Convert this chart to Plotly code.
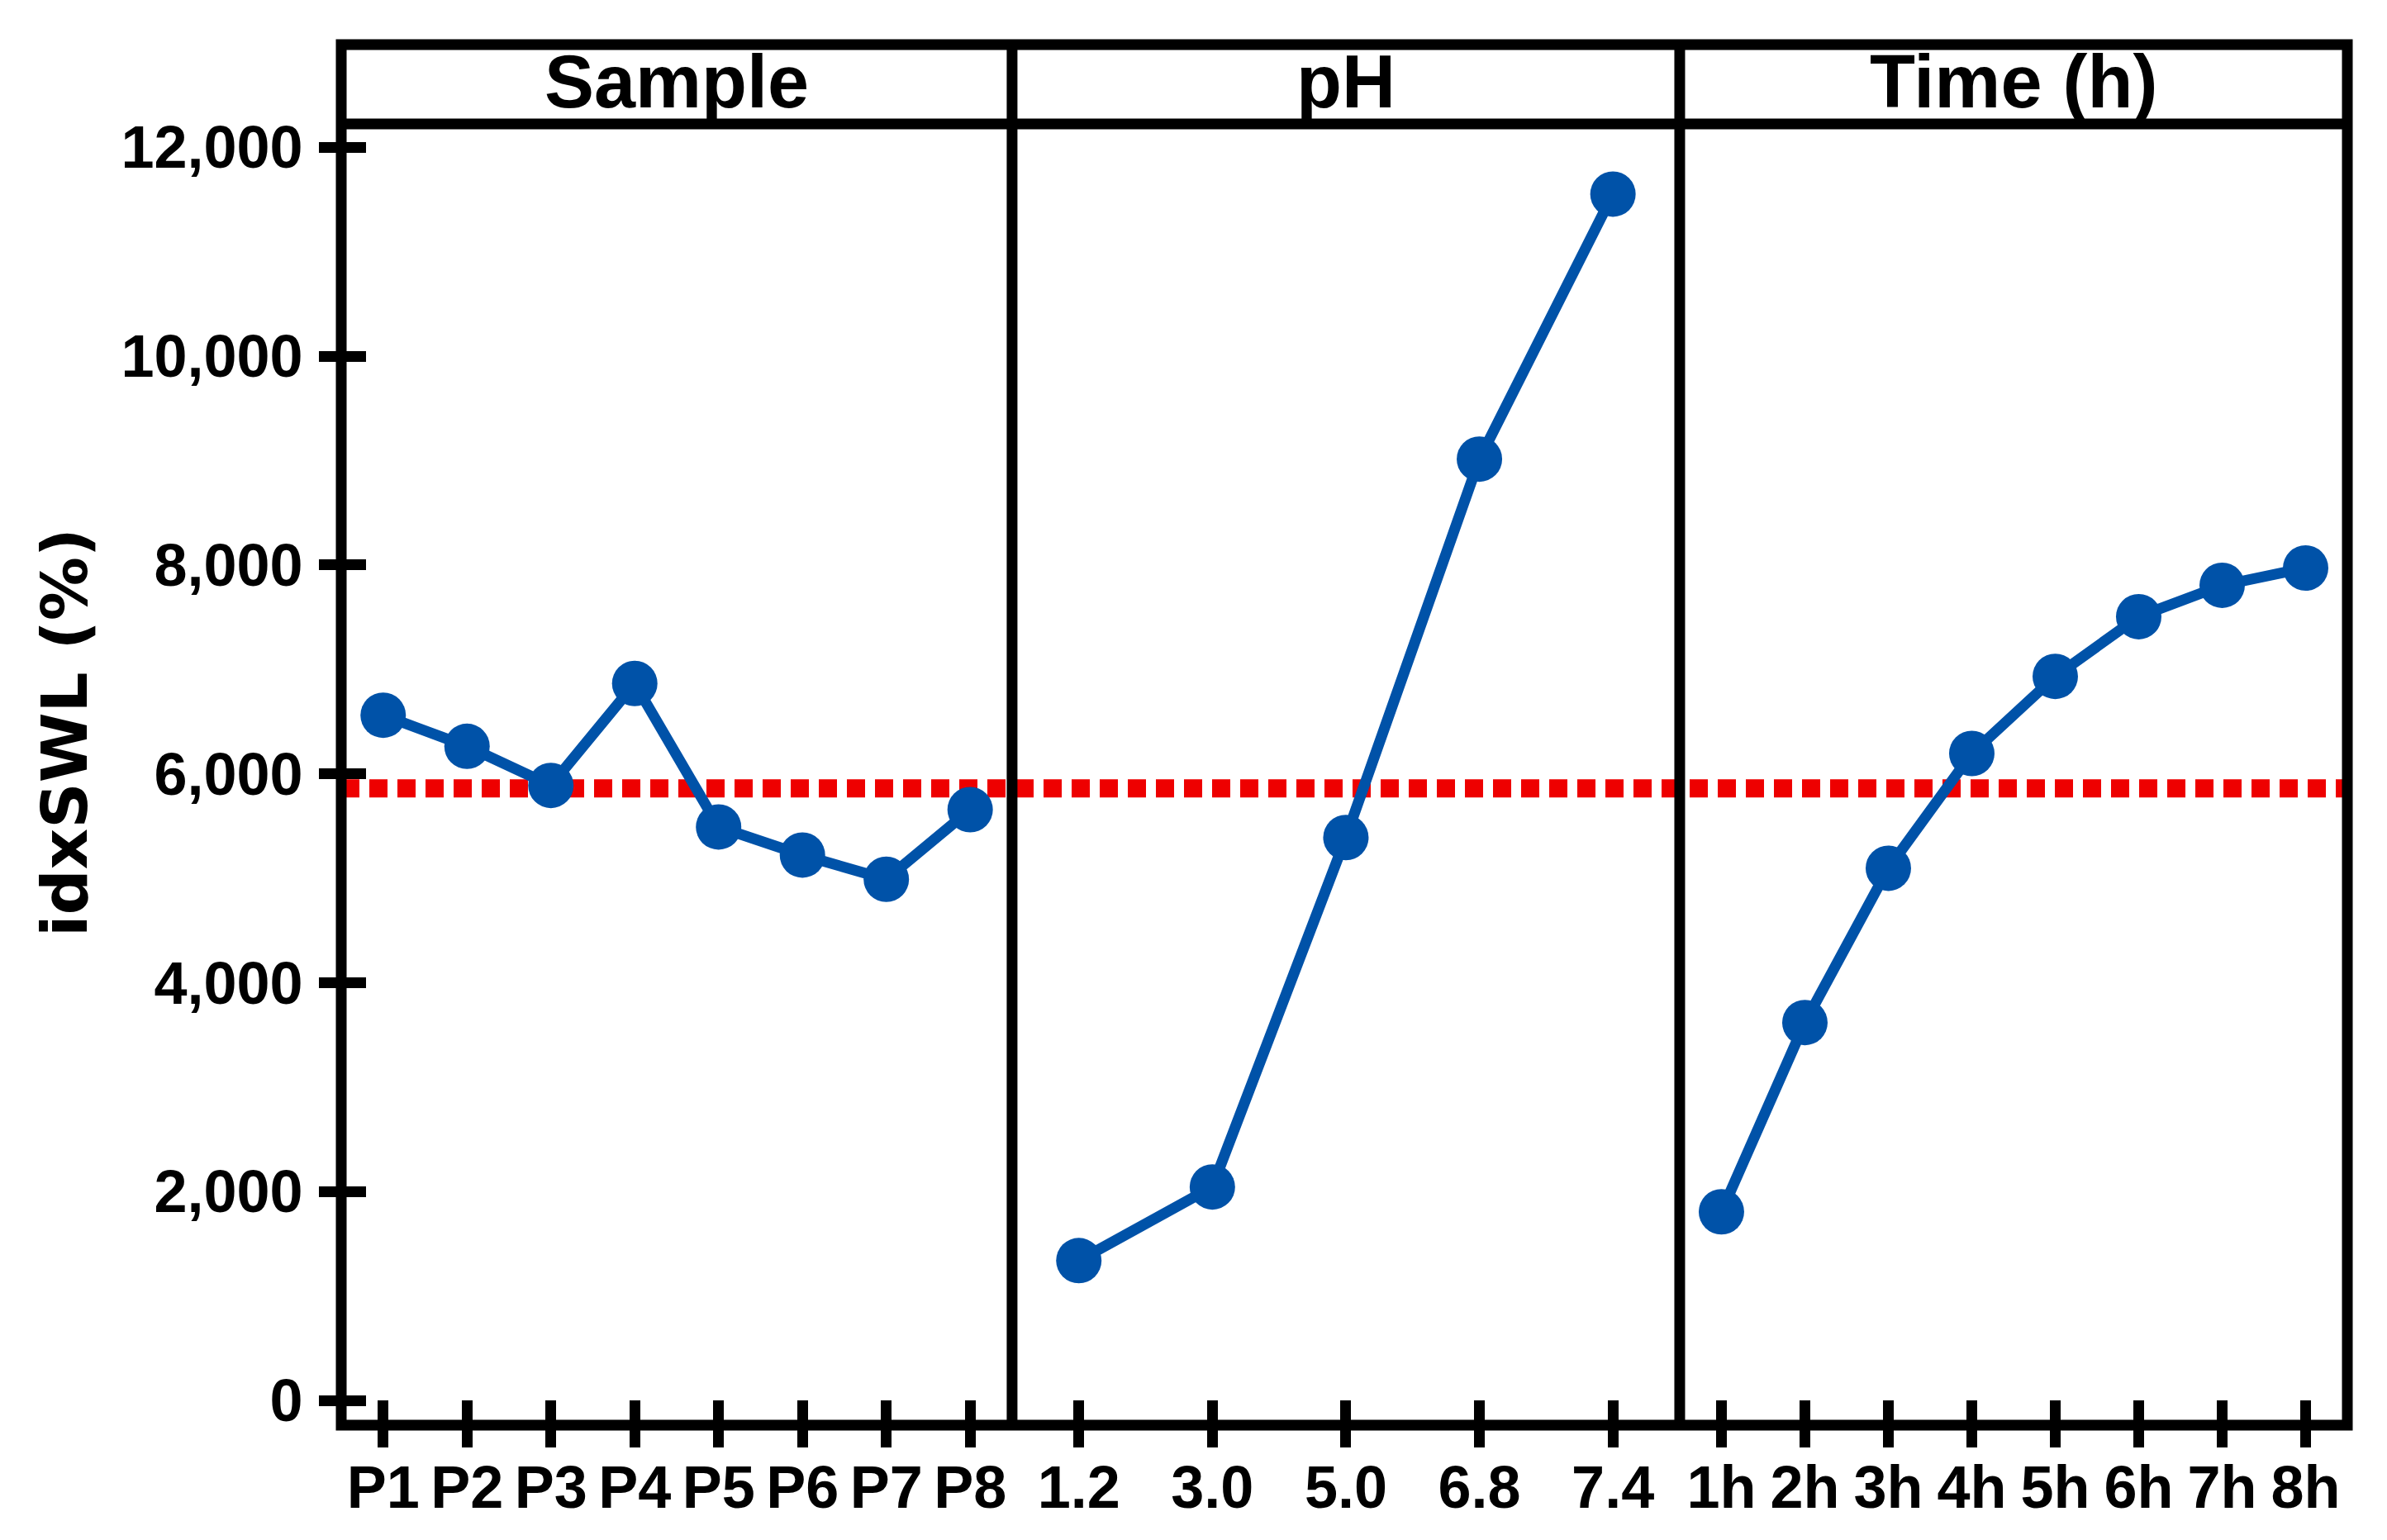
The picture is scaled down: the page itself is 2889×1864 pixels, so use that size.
import plotly.graph_objects as go

# ---------------- data ----------------
SAMPLE_LABELS = ["P1", "P2", "P3", "P4", "P5", "P6", "P7", "P8"]
SAMPLE_VALUES = [6561, 6263, 5889, 6865, 5491, 5222, 4990, 5657]

PH_LABELS = ["1.2", "3.0", "5.0", "6.8", "7.4"]
PH_VALUES = [1339, 2044, 5390, 9014, 11551]

TIME_LABELS = ["1h", "2h", "3h", "4h", "5h", "6h", "7h", "8h"]
TIME_VALUES = [1806, 3618, 5096, 6195, 6933, 7505, 7805, 7971]

REF_LINE = 5860

STRIP_TITLES = ["Sample", "pH", "Time (h)"]
Y_TITLE = "idxSWL (%)"
Y_TICKS = [0, 2000, 4000, 6000, 8000, 10000, 12000]

# ---------------- layout constants ----------------
# the page body adds an 8px margin, so the figure is 8px smaller and shifted
W, H = 2881, 1856
ML, MR, MT, MB = 405, 48, 142, 139
PW = W - ML - MR
PHh = H - MT - MB
Y_RANGE = [-237, 12223]
DOM = [0.0, 0.3344, 0.6672, 1.0]
STRIP_TOP = 1 + 96 / PHh
BLUE = "#0052A8"
RED = "#EE0000"
LW = 13

TICKFONT = dict(family="Liberation Sans Narrow, Arial Narrow, Liberation Sans, Arial",
                size=72, color="black", weight="bold")

panels = [(SAMPLE_LABELS, SAMPLE_VALUES), (PH_LABELS, PH_VALUES), (TIME_LABELS, TIME_VALUES)]

fig = go.Figure()
for i, (labs, vals) in enumerate(panels):
    xa = "x" if i == 0 else f"x{i+1}"
    fig.add_trace(go.Scatter(
        x=labs, y=vals, xaxis=xa, yaxis="y",
        mode="lines+markers",
        line=dict(color=BLUE, width=13),
        marker=dict(size=55, color=BLUE),
        showlegend=False, cliponaxis=False, hoverinfo="x+y",
    ))
    # invisible copy on the overlay axis that carries the inside ticks
    fig.add_trace(go.Scatter(
        x=labs, y=vals, xaxis=f"x{i+4}", yaxis="y",
        mode="markers", marker=dict(opacity=0, size=1),
        showlegend=False, hoverinfo="skip",
    ))
# invisible copy for the inside-ticks y overlay axis
fig.add_trace(go.Scatter(
    x=SAMPLE_LABELS, y=SAMPLE_VALUES, xaxis="x", yaxis="y2",
    mode="markers", marker=dict(opacity=0, size=1),
    showlegend=False, hoverinfo="skip",
))

layout = dict(
    width=W, height=H,
    margin=dict(l=ML, r=MR, t=MT, b=MB, pad=0),
    paper_bgcolor="white", plot_bgcolor="white",
    showlegend=False,
)

for i, (labs, vals) in enumerate(panels):
    key = "xaxis" if i == 0 else f"xaxis{i+1}"
    layout[key] = dict(
        domain=[DOM[i], DOM[i + 1]], anchor="y", type="category",
        categoryorder="array", categoryarray=labs,
        range=[-0.5, len(labs) - 0.5],
        tickmode="array", tickvals=labs,
        ticks="outside", ticklen=26, tickwidth=LW, tickcolor="black",
        showline=False, showgrid=False, zeroline=False,
        tickfont=TICKFONT, ticklabelstandoff=-13, fixedrange=True,
    )
    okey = f"xaxis{i+4}"
    layout[okey] = dict(
        overlaying=("x" if i == 0 else f"x{i+1}"), anchor="y",
        type="category", categoryorder="array", categoryarray=labs,
        range=[-0.5, len(labs) - 0.5],
        tickmode="array", tickvals=labs,
        ticks="inside", ticklen=30, tickwidth=LW, tickcolor="black",
        showticklabels=False, showline=False, showgrid=False, zeroline=False,
        fixedrange=True,
    )

layout["yaxis"] = dict(
    domain=[0, 1], anchor="x", range=Y_RANGE,
    tickmode="array", tickvals=Y_TICKS, ticktext=[f"{v:,}" for v in Y_TICKS],
    ticks="outside", ticklen=26, tickwidth=LW, tickcolor="black",
    showline=False, showgrid=False, zeroline=False,
    tickfont=TICKFONT, ticklabelstandoff=5, fixedrange=True,
)
layout["yaxis2"] = dict(
    overlaying="y", anchor="x", side="left", range=Y_RANGE,
    tickmode="array", tickvals=Y_TICKS,
    ticks="inside", ticklen=30, tickwidth=LW, tickcolor="black",
    showticklabels=False, showline=False, showgrid=False, zeroline=False,
    fixedrange=True,
)

shapes = [
    # reference (mean) line
    dict(type="line", xref="paper", yref="y", x0=0, x1=1, y0=REF_LINE, y1=REF_LINE,
         line=dict(color=RED, width=22, dash="22px,12px"), layer="below"),
    # outer frame including strip
    dict(type="rect", xref="paper", yref="paper", x0=0, x1=1, y0=0, y1=STRIP_TOP,
         line=dict(color="black", width=LW), fillcolor="rgba(0,0,0,0)", layer="above"),
    # strip bottom line
    dict(type="line", xref="paper", yref="paper", x0=0, x1=1, y0=1, y1=1,
         line=dict(color="black", width=LW), layer="above"),
]
for d in DOM[1:-1]:
    shapes.append(dict(type="line", xref="paper", yref="paper", x0=d, x1=d, y0=0, y1=STRIP_TOP,
                       line=dict(color="black", width=LW), layer="above"))
layout["shapes"] = shapes

annotations = []
strip_y = (H - MB - 91) / PHh
for i, t in enumerate(STRIP_TITLES):
    annotations.append(dict(
        text=t, xref="paper", yref="paper",
        x=(DOM[i] + DOM[i + 1]) / 2, y=strip_y,
        xanchor="center", yanchor="middle", showarrow=False,
        font=dict(family="Liberation Sans, Arial", size=90, color="black", weight="bold"),
    ))
annotations.append(dict(
    text=Y_TITLE, xref="paper", yref="paper",
    x=(70 - ML) / PW, y=(H - MB - 879) / PHh,
    xanchor="center", yanchor="middle", textangle=-90, showarrow=False,
    font=dict(family="DejaVu Sans, Liberation Sans", size=77, color="black", weight="bold"),
))
layout["annotations"] = annotations

fig.update_layout(**layout)
fig.write_html("out.html")
